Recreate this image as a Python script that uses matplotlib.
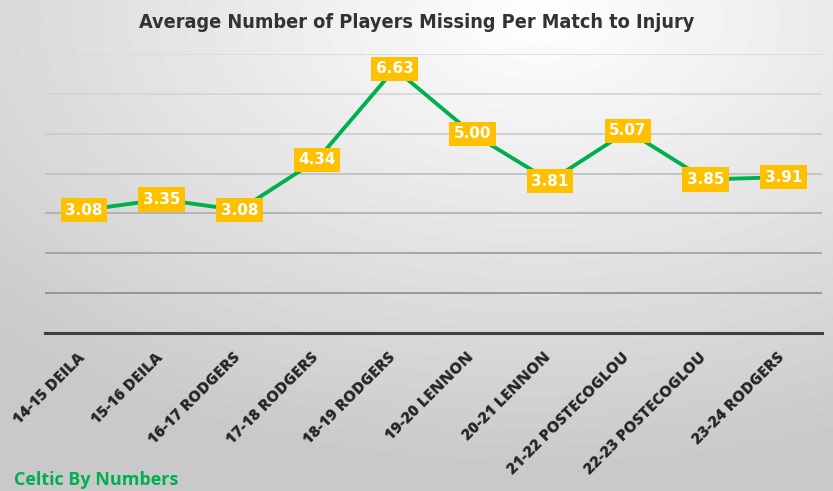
import numpy as np
import matplotlib.pyplot as plt
import matplotlib.transforms as mtransforms

seasons = ["14-15 DEILA", "15-16 DEILA", "16-17 RODGERS", "17-18 RODGERS",
           "18-19 RODGERS", "19-20 LENNON", "20-21 LENNON",
           "21-22 POSTECOGLOU", "22-23 POSTECOGLOU", "23-24 RODGERS"]
avg_missing = [3.08, 3.35, 3.08, 4.34, 6.63, 5.00, 3.81, 5.07, 3.85, 3.91]

GREEN = "#00B050"
YELLOW = "#FFC000"

fig = plt.figure(figsize=(8.33, 4.91), dpi=100)

# radial grey background, lightest near the top middle
bg = fig.add_axes([0, 0, 1, 1], zorder=0)
yy, xx = np.mgrid[0:491, 0:833]
r = np.sqrt(((xx - 540) / 833) ** 2 + ((yy - 20) / 491) ** 2)
shade = np.clip(1.0 - 0.23 * r, 0.79, 1.0)
bg.imshow(shade, cmap="gray", vmin=0, vmax=1, aspect="auto",
          extent=[0, 1, 0, 1], origin="upper")
bg.axis("off")

ax = fig.add_axes([0.054, 0.322, 0.933, 0.568], zorder=1)
ax.patch.set_alpha(0)
x = np.arange(len(seasons))

# gridlines fade towards the top like the original
grid_cols = ["#8c8c8c", "#9c9c9c", "#adadad", "#bdbdbd", "#cacaca",
             "#d4d4d4", "#dadada"]
for level, c in zip(range(1, 8), grid_cols):
    ax.axhline(level, color=c, linewidth=1.2, zorder=1)

ax.plot(x, avg_missing, color=GREEN, linewidth=2.8, marker="o",
        markersize=12, zorder=3)
for xi, v in zip(x, avg_missing):
    ax.text(xi, v, f"{v:.2f}", ha="center", va="center", color="white",
            fontsize=11, fontweight="bold", family="DejaVu Sans", zorder=4,
            bbox=dict(boxstyle="square,pad=0.3", fc=YELLOW, ec="none"))

ax.set_xlim(-0.5, len(seasons) - 0.5)
ax.set_ylim(0, 7)
ax.set_yticks([])
ax.tick_params(axis="x", length=0, pad=12)
for s in ["top", "right", "left"]:
    ax.spines[s].set_visible(False)
ax.spines["bottom"].set_color("#404040")
ax.spines["bottom"].set_linewidth(2.2)

ax.set_xticks(x)
ax.set_xticklabels(seasons, rotation=45, ha="right", rotation_mode="anchor",
                   fontsize=11.5, fontweight="heavy", family="Open Sans",
                   color="#262626")
shift = mtransforms.ScaledTranslation(-5 / 72, 0, fig.dpi_scale_trans)
for lbl in ax.get_xticklabels():
    lbl.set_transform(lbl.get_transform() + shift)

fig.text(0.5, 0.955, "Average Number of Players Missing Per Match to Injury",
         ha="center", va="center", fontsize=14.2, fontweight="bold",
         fontstretch="condensed", family="DejaVu Sans", color="#333333")
fig.text(0.017, 0.022, "Celtic By Numbers", ha="left", va="center",
         fontsize=13, fontweight="bold", family="Open Sans", color=GREEN)

fig.savefig("out.png", dpi=100)
